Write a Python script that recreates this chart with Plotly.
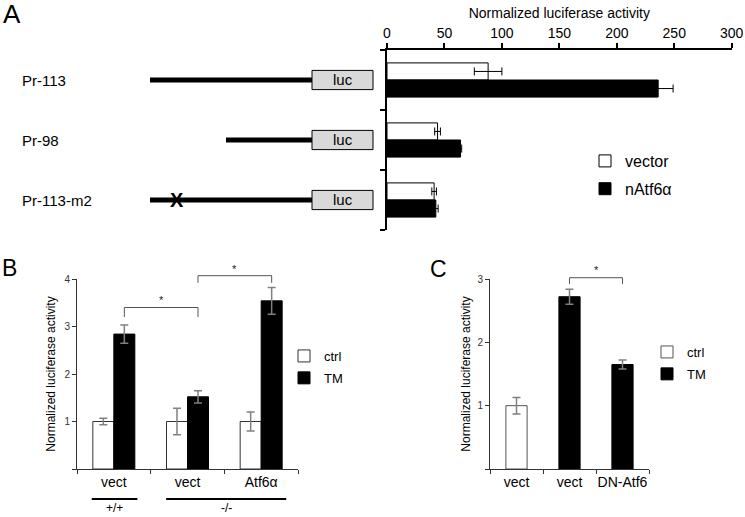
import plotly.graph_objects as go

W, H = 745, 517
FONT = "Arial, Liberation Sans, sans-serif"


def px(x):
    return x / W


def py(y):
    return 1 - y / H


# ---------------- Panel A data ----------------
a_constructs = ["Pr-113", "Pr-98", "Pr-113-m2"]
a_vector = [88, 44, 41]
a_vector_err = [12, 2.5, 2]
a_natf6 = [236, 64, 42.5]
a_natf6_err = [13, 1, 2]
a_ticks = [0, 50, 100, 150, 200, 250, 300]
a_series = ["vector", "nAtf6α"]

# ---------------- Panel B data ----------------
b_groups = ["vect", "vect", "Atf6α"]
b_genotypes = ["+/+", "-/-"]
b_ctrl = [1.0, 1.0, 1.0]
b_ctrl_err = [0.07, 0.28, 0.2]
b_tm = [2.84, 1.52, 3.54]
b_tm_err = [0.19, 0.13, 0.28]
b_ticks = [0, 1, 2, 3, 4]

# ---------------- Panel C data ----------------
c_groups = ["vect", "vect", "DN-Atf6"]
c_ctrl_x = [0]
c_ctrl = [1.0]
c_ctrl_err = [0.13]
c_tm_x = [1, 2]
c_tm = [2.72, 1.65]
c_tm_err = [0.12, 0.07]
c_ticks = [0, 1, 2, 3]

BARGAP = 0.43
GRAY_ERR = "#808080"

# axis domains (paper fractions)
A_XDOM = [px(387), px(731.7)]
A_YDOM = [py(230), py(50)]
B_XDOM = [px(77), px(298)]
BC_YDOM = [py(469), py(279)]
C_XDOM = [px(490), px(649)]
B_YRANGE = [0, 4]
C_YRANGE = [0, 3]


def to_paper_y(v, dom, rng):
    return dom[0] + (v - rng[0]) / (rng[1] - rng[0]) * (dom[1] - dom[0])


fig = go.Figure()

# ---- Panel A bars ----
a_pos = list(range(len(a_constructs)))
fig.add_trace(go.Bar(
    y=a_pos, x=a_vector, orientation="h", name=a_series[0],
    marker=dict(color="white", line=dict(color="black", width=1)),
    error_x=dict(type="data", array=a_vector_err, color="black", thickness=1, width=4),
    xaxis="x", yaxis="y", legend="legend", legendgroup="a1", hoverinfo="skip"))
fig.add_trace(go.Bar(
    y=a_pos, x=a_natf6, orientation="h", name=a_series[1],
    marker=dict(color="black", line=dict(color="black", width=1)),
    error_x=dict(type="data", array=a_natf6_err, color="black", thickness=1, width=4),
    xaxis="x", yaxis="y", legend="legend", legendgroup="a2", hoverinfo="skip"))

# ---- Panel B bars ----
b_pos = list(range(len(b_groups)))
fig.add_trace(go.Bar(
    x=b_pos, y=b_ctrl, name="ctrl",
    marker=dict(color="white", line=dict(color="#333333", width=1)),
    error_y=dict(type="data", array=b_ctrl_err, color=GRAY_ERR, thickness=1.5, width=4),
    xaxis="x2", yaxis="y2", legend="legend2", legendgroup="b1", hoverinfo="skip"))
fig.add_trace(go.Bar(
    x=b_pos, y=b_tm, name="TM",
    marker=dict(color="black", line=dict(color="black", width=1)),
    error_y=dict(type="data", array=b_tm_err, color=GRAY_ERR, thickness=1.5, width=4),
    xaxis="x2", yaxis="y2", legend="legend2", legendgroup="b2", hoverinfo="skip"))

# ---- Panel C bars ----
c_width = 0.4
fig.add_trace(go.Bar(
    x=c_ctrl_x, y=c_ctrl, name="ctrl", width=c_width, offset=-c_width / 2,
    marker=dict(color="white", line=dict(color="#555555", width=1)),
    error_y=dict(type="data", array=c_ctrl_err, color=GRAY_ERR, thickness=1.5, width=4),
    xaxis="x3", yaxis="y3", legend="legend3", legendgroup="c1", hoverinfo="skip"))
fig.add_trace(go.Bar(
    x=c_tm_x, y=c_tm, name="TM", width=c_width, offset=-c_width / 2,
    marker=dict(color="black", line=dict(color="black", width=1)),
    error_y=dict(type="data", array=c_tm_err, color=GRAY_ERR, thickness=1.5, width=4),
    xaxis="x3", yaxis="y3", legend="legend3", legendgroup="c2", hoverinfo="skip"))

shapes = []
annotations = []

# ---- significance brackets ----
tm_off = (1 - BARGAP) / 4
b_brackets = [((0, 1), 3.20, 3.40, 3.55), ((1, 2), 3.92, 4.07, 4.22)]
c_brackets = [((1, 2), 2.92, 3.02, 3.15)]
for brackets, xr, rng, off in [(b_brackets, "x2", B_YRANGE, tm_off), (c_brackets, "x3", C_YRANGE, 0)]:
    for (g0, g1), lo, hi, star in brackets:
        xa, xb = g0 + off, g1 + off
        ylo, yhi = to_paper_y(lo, BC_YDOM, rng), to_paper_y(hi, BC_YDOM, rng)
        shapes.append(dict(type="path", xref=xr, yref="paper",
                           path=f"M{xa},{ylo} L{xa},{yhi} L{xb},{yhi} L{xb},{ylo}",
                           line=dict(color="#555555", width=1)))
        annotations.append(dict(x=(xa + xb) / 2, y=to_paper_y(star, BC_YDOM, rng),
                                xref=xr, yref="paper", text="*", showarrow=False,
                                font=dict(size=11, color="#222222", family=FONT)))

# ---- Panel A construct diagrams ----
promoter_start = [150, 226, 150]   # pixel starts of promoter lines
promoter_end = 312
luc_box = (312, 373)
mutation = {2: 168}
for i, name in enumerate(a_constructs):
    shapes.append(dict(type="line", xref="paper", yref="y",
                       x0=px(promoter_start[i]), x1=px(promoter_end), y0=i, y1=i,
                       line=dict(color="black", width=5)))
    shapes.append(dict(type="rect", xref="paper", yref="y",
                       x0=px(luc_box[0]), x1=px(luc_box[1]), y0=i - 0.16, y1=i + 0.16,
                       fillcolor="#d9d9d9", line=dict(color="black", width=1)))
    annotations.append(dict(x=px((luc_box[0] + luc_box[1]) / 2), y=i, xref="paper", yref="y",
                            text="luc", showarrow=False,
                            font=dict(size=15, color="black", family=FONT)))
    annotations.append(dict(x=px(20), y=i, xref="paper", yref="y", text=name,
                            xanchor="left", showarrow=False, yshift=-1,
                            font=dict(size=15, color="black", family=FONT)))
    if i in mutation:
        annotations.append(dict(x=px(mutation[i]), y=i, xref="paper", yref="y",
                                text="<b>X</b>", showarrow=False,
                                font=dict(size=20, color="black", family=FONT)))

# ---- Panel B genotype underlines ----
b_underlines = [(-0.3, 0.32), (0.71, 2.34)]
for (x0, x1), g in zip(b_underlines, b_genotypes):
    shapes.append(dict(type="line", xref="x2", yref="paper", x0=x0, x1=x1,
                       y0=py(499), y1=py(499), line=dict(color="black", width=2)))
    annotations.append(dict(x=(x0 + x1) / 2, y=0, xref="x2", yref="paper", text=g,
                            yanchor="bottom", showarrow=False,
                            font=dict(size=12, color="black", family=FONT)))

# ---- panel letters ----
annotations.append(dict(x=0, y=1, xref="paper", yref="paper", text="A", xanchor="left",
                        yanchor="top", showarrow=False, xshift=1, yshift=3,
                        font=dict(size=26, color="black", family=FONT)))
annotations.append(dict(x=0, y=py(268), xref="paper", yref="paper", text="B", xanchor="left",
                        yanchor="middle", showarrow=False,
                        font=dict(size=23, color="black", family=FONT)))
annotations.append(dict(x=px(439), y=py(269), xref="paper", yref="paper", text="C",
                        showarrow=False, font=dict(size=23, color="black", family=FONT)))

common = dict(automargin=False, showgrid=False, zeroline=False, showline=True)

fig.update_layout(
    width=W, height=H, margin=dict(l=0, r=0, t=0, b=0, autoexpand=False),
    paper_bgcolor="white", plot_bgcolor="white",
    font=dict(family=FONT, color="black"),
    barmode="group", bargap=BARGAP, bargroupgap=0,
    shapes=shapes, annotations=annotations,
    xaxis=dict(domain=A_XDOM, range=[0, 300], side="top", anchor="y",
               tickvals=a_ticks, ticks="outside", ticklen=5, tickwidth=1.5, tickcolor="black",
               linecolor="black", linewidth=1.5,
               tickfont=dict(size=14, color="black"),
               title=dict(text="Normalized luciferase activity", font=dict(size=14), standoff=3),
               **common),
    yaxis=dict(domain=A_YDOM, range=[2.5, -0.5], anchor="x",
               tickvals=a_pos, showticklabels=False, ticks="",
               minor=dict(tickmode="array", tickvals=[-0.5, 0.5, 1.5, 2.5], ticks="outside",
                          ticklen=5, tickwidth=1.5, tickcolor="black"),
               linecolor="black", linewidth=1.5, **common),
    xaxis2=dict(domain=B_XDOM, range=[-0.5, 2.5], anchor="y2",
                tickvals=b_pos, ticktext=b_groups, ticks="", ticklabelstandoff=0,
                minor=dict(tickmode="array", tickvals=[-0.5, 0.5, 1.5, 2.5], ticks="outside",
                           ticklen=4, tickcolor="#333333"),
                linecolor="#333333", linewidth=1,
                tickfont=dict(size=14, color="black"), **common),
    yaxis2=dict(domain=BC_YDOM, range=B_YRANGE, anchor="x2",
                tickvals=b_ticks, ticktext=[""] + [str(t) for t in b_ticks[1:]],
                ticks="outside", ticklen=4, tickcolor="#333333",
                linecolor="#333333", linewidth=1,
                tickfont=dict(size=10, color="#333333"),
                title=dict(text="Normalized luciferase activity", font=dict(size=12), standoff=6),
                **common),
    xaxis3=dict(domain=C_XDOM, range=[-0.5, 2.5], anchor="y3",
                tickvals=[0, 1, 2], ticktext=c_groups, ticks="", ticklabelstandoff=0,
                minor=dict(tickmode="array", tickvals=[-0.5, 0.5, 1.5, 2.5], ticks="outside",
                           ticklen=4, tickcolor="#333333"),
                linecolor="#333333", linewidth=1,
                tickfont=dict(size=14, color="black"), **common),
    yaxis3=dict(domain=BC_YDOM, range=C_YRANGE, anchor="x3",
                tickvals=c_ticks, ticktext=[""] + [str(t) for t in c_ticks[1:]],
                ticks="outside", ticklen=4, tickcolor="#333333",
                linecolor="#333333", linewidth=1,
                tickfont=dict(size=10, color="#333333"),
                title=dict(text="Normalized luciferase activity", font=dict(size=12), standoff=4),
                **common),
    legend=dict(x=px(585), y=py(144), xanchor="left", yanchor="top", bgcolor="rgba(0,0,0,0)",
                font=dict(size=16), tracegroupgap=4),
    legend2=dict(x=px(284), y=py(341), xanchor="left", yanchor="top", bgcolor="rgba(0,0,0,0)",
                 font=dict(size=13), tracegroupgap=2),
    legend3=dict(x=px(647), y=py(337), xanchor="left", yanchor="top", bgcolor="rgba(0,0,0,0)",
                 font=dict(size=13), tracegroupgap=2),
)

fig.write_html("out.html", config={"displayModeBar": False},
               post_script="document.body.style.margin='0';")
